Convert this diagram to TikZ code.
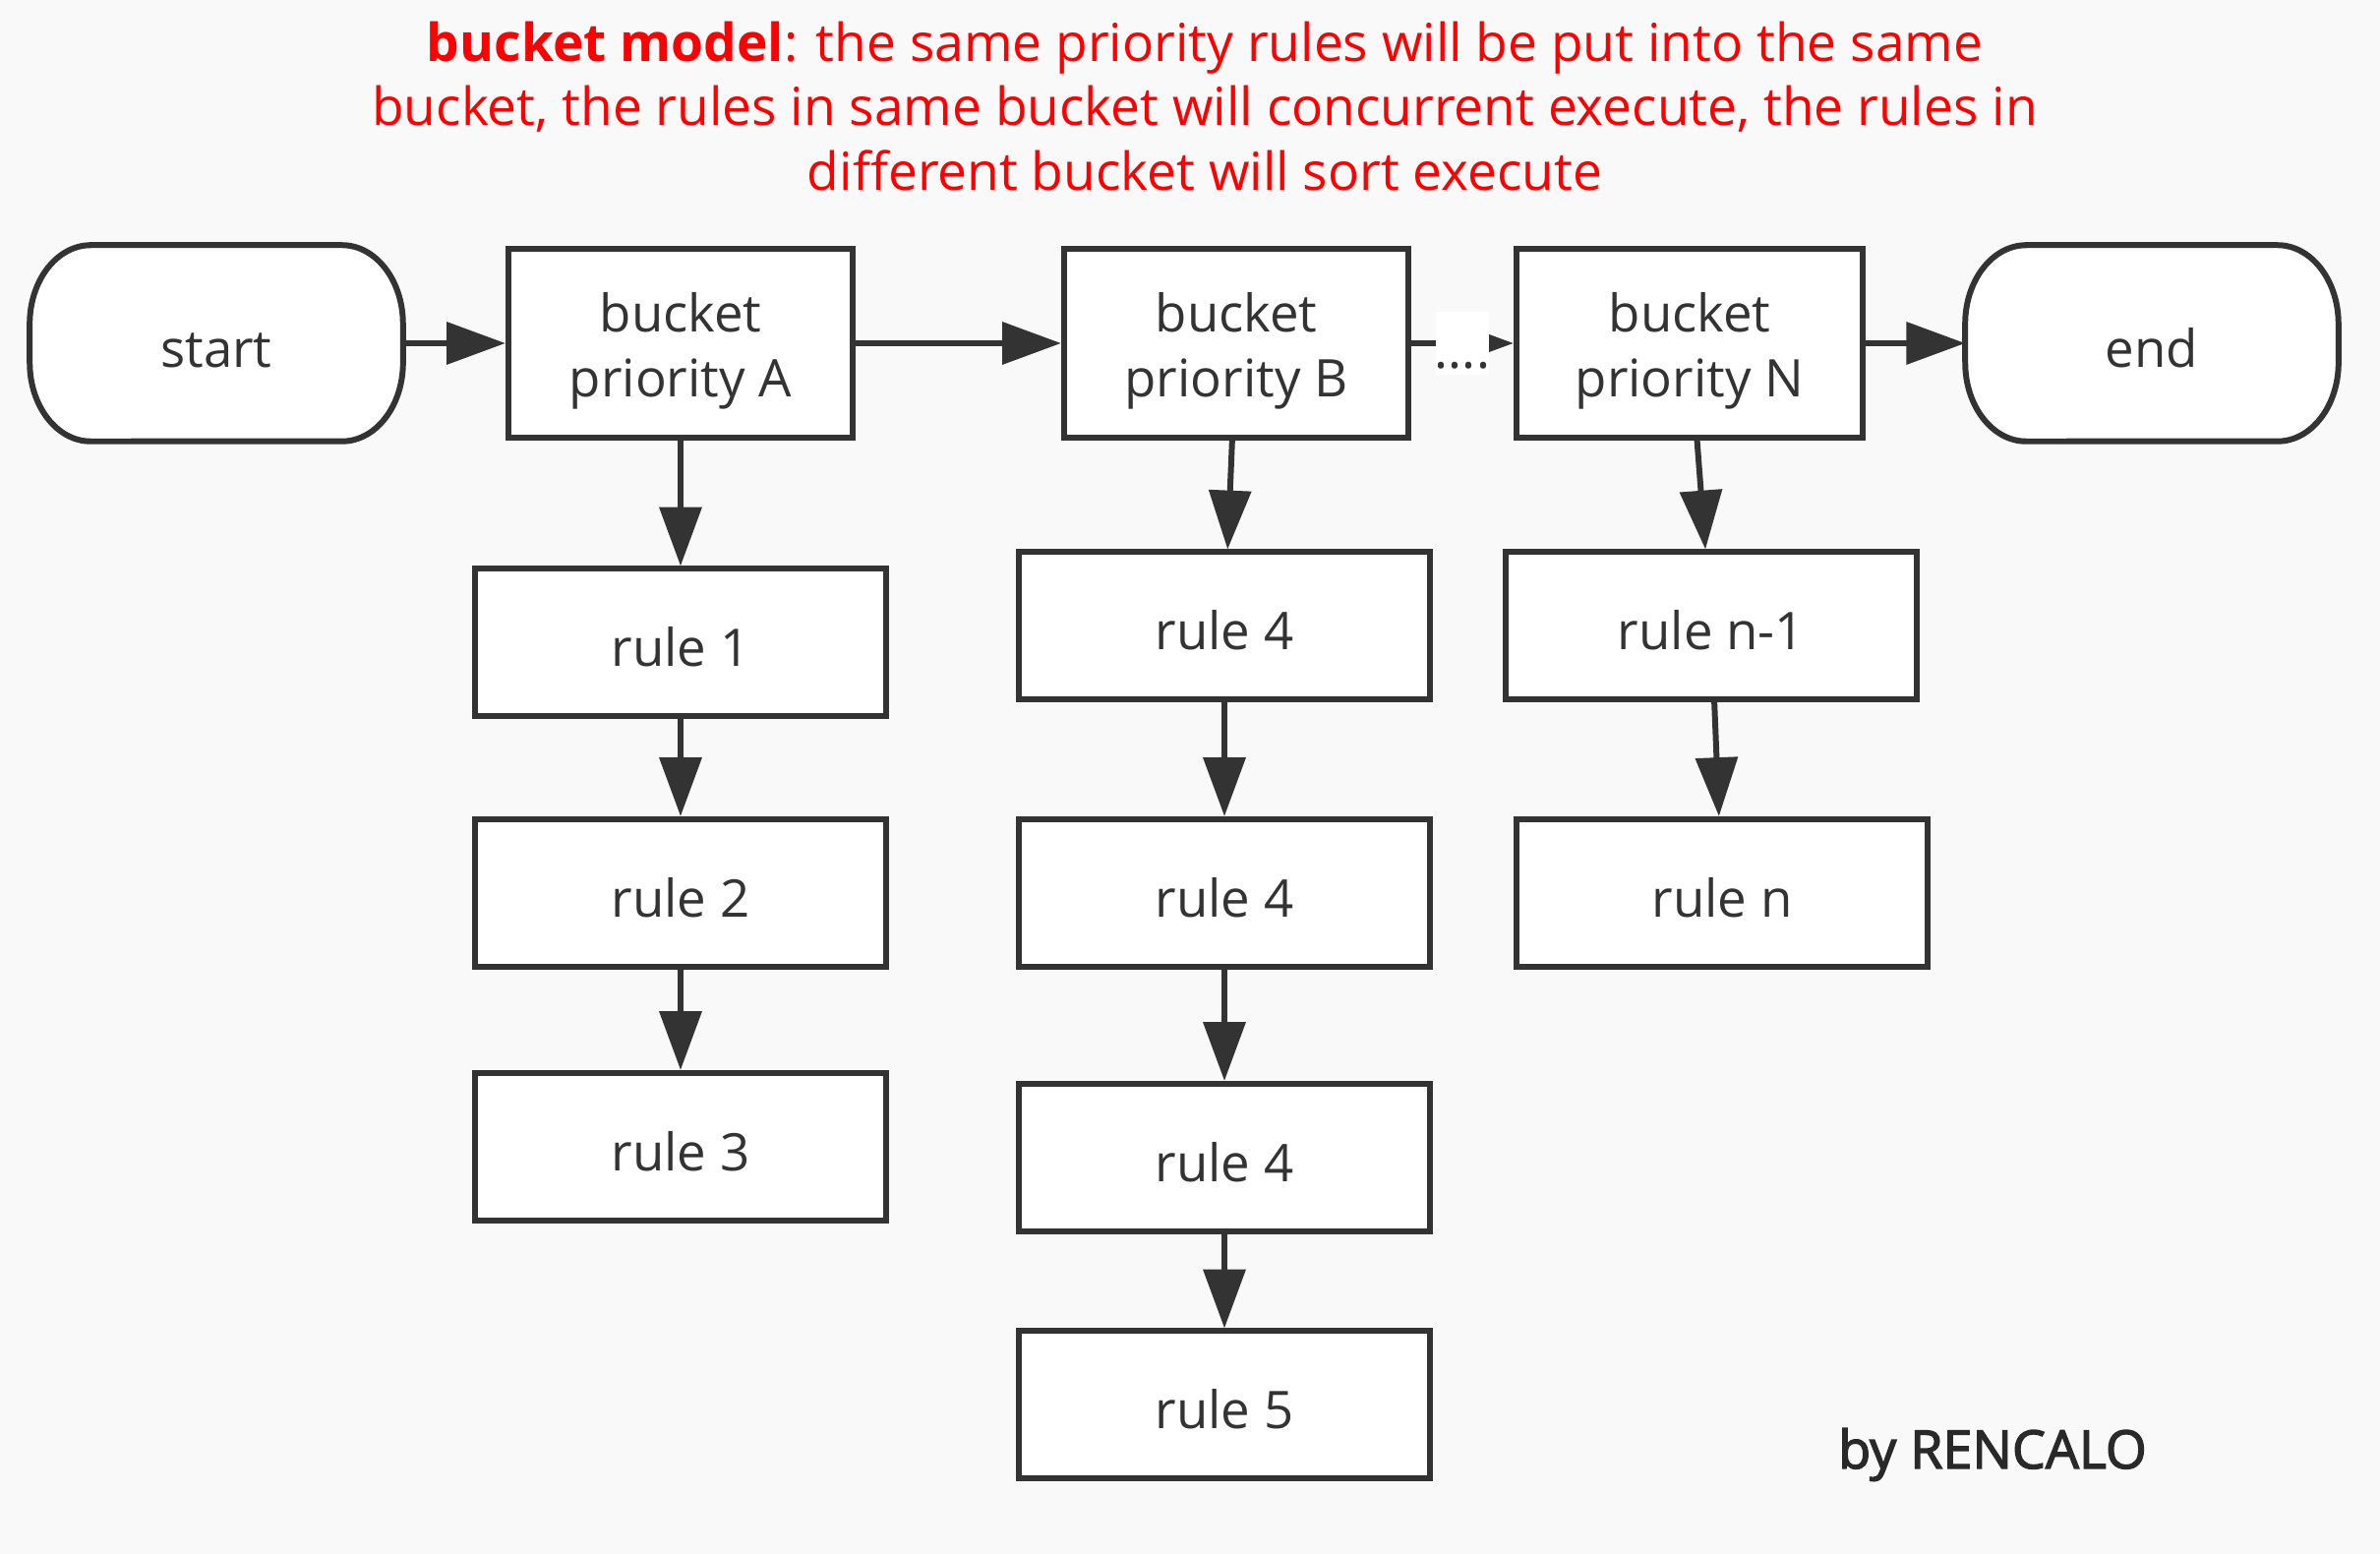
\documentclass[tikz,border=0pt]{standalone}
\usepackage{fontspec}
\setmainfont{Open Sans}
\newfontfamily\sigfont[FakeBold=2.5]{Open Sans}
\usetikzlibrary{arrows.meta}
\definecolor{ink}{HTML}{333333}
\definecolor{bg}{HTML}{F9F9F9}
\definecolor{titlered}{HTML}{FF0000}
\newcommand{\firststrut}{\rule{0pt}{15.8pt}}
\begin{document}
\begin{tikzpicture}[x=0.01cm,y=0.01cm,
  box/.style={draw=ink, line width=1.7pt, fill=white, inner sep=0pt, text=ink,
    font=\fontsize{15}{18.7}\selectfont, align=center},
  oneline/.style={text height=14pt, text depth=0pt},
  term/.style={inner sep=0pt, text=ink, font=\fontsize{15}{18.7}\selectfont, oneline,
    minimum width=3.78cm, minimum height=1.98cm},
  bucketbox/.style={box, minimum width=3.50cm, minimum height=1.92cm},
  rulebox/.style={box, oneline, minimum width=4.18cm, minimum height=1.49cm},
  conn/.style={draw=ink, line width=1.7pt, -{Triangle[length=17pt,width=12pt]}}
]
\fill[bg] (0,0) rectangle (2420,-1580);
\useasboundingbox (0,0) rectangle (2420,-1580);

% title
\node[text=titlered, align=center, font=\fontsize{15.15}{18.5}\selectfont] (title) at (1225,-108)
  {\textbf{bucket model}: the same priority rules will be put into the same\\
   bucket, the rules in same bucket will concurrent execute, the rules in\\
   different bucket will sort execute};

% terminals (rounded outline with elliptical corners)
\node[term] (start) at (220,-349) {};
\node[term] (end) at (2188,-349) {};
\foreach \n in {start,end}{
  \draw[ink, line width=1.7pt, fill=white]
    ([xshift=0.62cm]\n.north west) -- ([xshift=-0.62cm]\n.north east)
    arc[start angle=90, end angle=0, x radius=62, y radius=80]
    -- ([yshift=0.8cm]\n.south east)
    arc[start angle=0, end angle=-90, x radius=62, y radius=80]
    -- ([xshift=0.62cm]\n.south west)
    arc[start angle=270, end angle=180, x radius=62, y radius=80]
    -- ([yshift=-0.8cm]\n.north west)
    arc[start angle=180, end angle=90, x radius=62, y radius=80] -- cycle;
}
\node[term] at (start) {start};
\node[term] at (end) {end};

% buckets
\node[bucketbox] (A) at (692,-349) {\firststrut bucket\\priority A};
\node[bucketbox] (B) at (1257,-349) {\firststrut bucket\\priority B};
\node[bucketbox, minimum width=3.52cm] (N) at (1718,-349) {\firststrut bucket\\priority N};

% rules
\node[rulebox] (r1) at (692,-653) {rule 1};
\node[rulebox, minimum height=1.50cm] (r2) at (692,-908) {rule 2};
\node[rulebox, minimum height=1.50cm] (r3) at (692,-1166) {rule 3};
\node[rulebox] (r4a) at (1245,-636) {rule 4};
\node[rulebox, minimum height=1.50cm] (r4b) at (1245,-908) {rule 4};
\node[rulebox, minimum height=1.50cm] (r4c) at (1245,-1177) {rule 4};
\node[rulebox] (r5) at (1245,-1428) {rule 5};
\node[rulebox] (rn1) at (1740,-636) {rule n-1};
\node[rulebox, minimum height=1.50cm] (rn) at (1751,-908) {rule n};

% connectors
\draw[conn] (start) -- (A);
\draw[conn] (A) -- (B);
\draw[conn] (B) -- (N);
\draw[conn] (N) -- (end);
\draw[conn] (A) -- (r1);
\draw[conn] (r1) -- (r2);
\draw[conn] (r2) -- (r3);
\draw[conn] (B) -- (r4a);
\draw[conn] (r4a) -- (r4b);
\draw[conn] (r4b) -- (r4c);
\draw[conn] (r4c) -- (r5);
\draw[conn] (N) -- (rn1);
\draw[conn] (rn1) -- (rn);

% dots label on B -> N
\node[fill=white, inner sep=0pt, minimum width=0.53cm, minimum height=0.63cm] (dotsbg) at (1487,-349) {};
\node[anchor=base, inner sep=0pt, text=ink, font=\fontsize{15}{18}\selectfont] (dots) at (1487,-375) {....};

% signature
\node[text=ink!80!black, font=\fontsize{15.3}{18}\sigfont] (sig) at (2026,-1479) {by RENCALO};
\end{tikzpicture}
\end{document}
